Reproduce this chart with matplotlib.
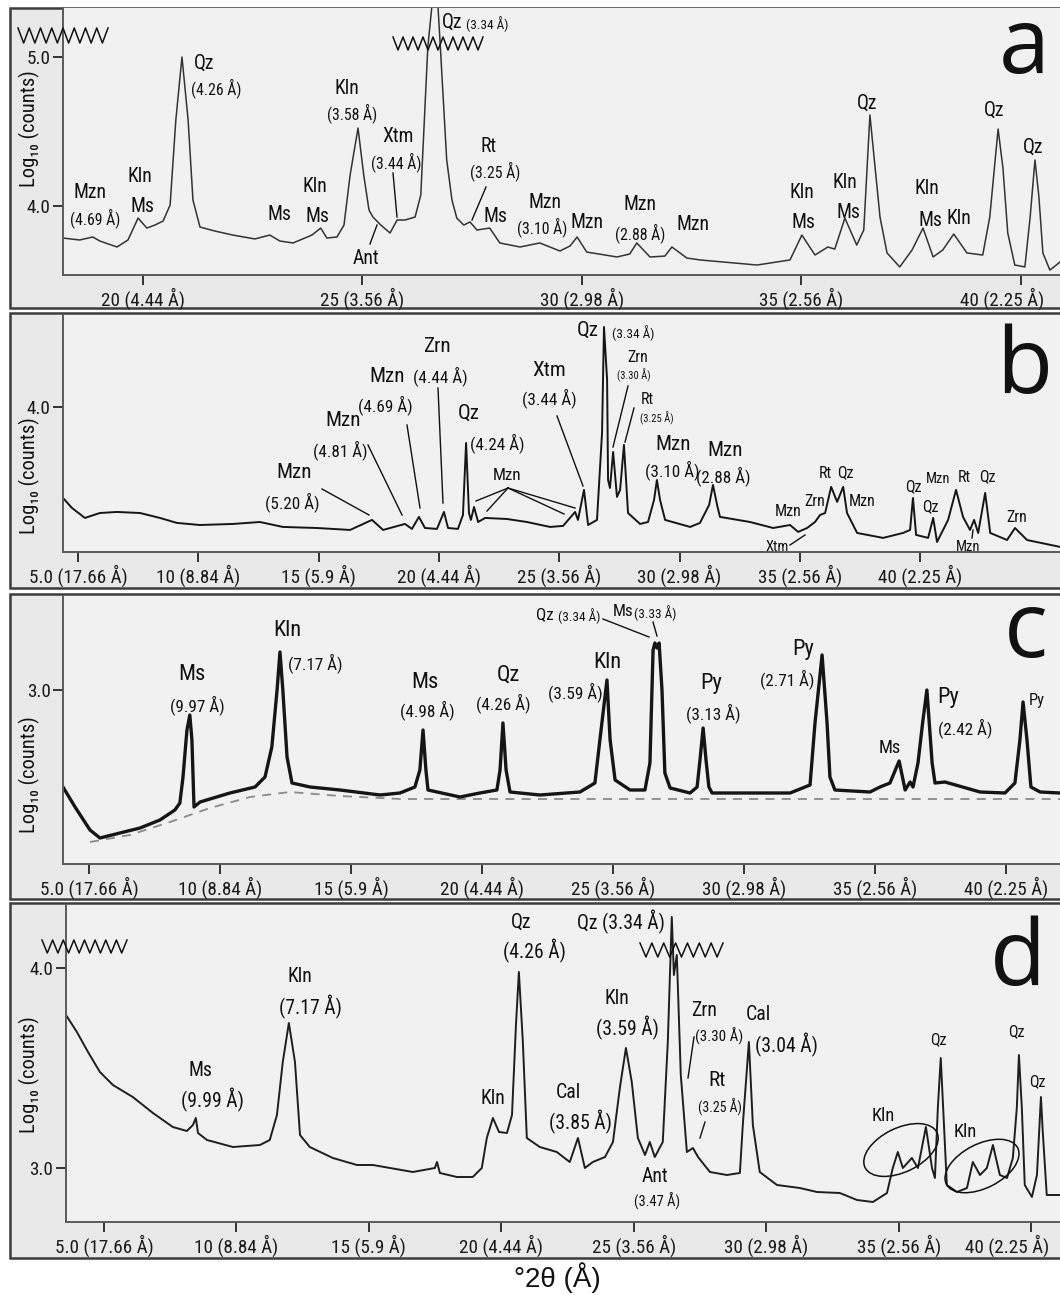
import matplotlib
matplotlib.use('Agg')
import matplotlib.pyplot as plt
from matplotlib.patches import Rectangle, Ellipse
from matplotlib.transforms import ScaledTranslation
from matplotlib import font_manager as fm

W, H, DPI = 1060, 1295, 100

# ---- pick a condensed sans font if one is installed ----
COND = None
_names = {f.name for f in fm.fontManager.ttflist}
for _fam in ['Liberation Sans Narrow', 'Roboto Condensed', 'Open Sans Condensed', 'Noto Sans Condensed',
             'Arial Narrow']:
    if _fam in _names:
        COND = (_fam, 'normal')
        break
if COND is None:
    for _f in fm.fontManager.ttflist:
        _fn = _f.fname.lower()
        if ('condensed' in _fn and all(k not in _fn for k in ['bold', 'italic', 'light', 'semi', 'extra',
                                                               'medium', 'black', 'thin'])
                and _f.name in ('Noto Sans', 'Open Sans', 'Roboto', 'Lato')):
            COND = (_f.name, _f.stretch)
            break
if COND is not None:
    FONT = [COND[0], 'DejaVu Sans']
    STRETCH = COND[1]
    S = 0.95
else:
    FONT = ['Roboto', 'DejaVu Sans']
    STRETCH = 'normal'
    S = 0.85

# ---------------- data (degrees 2-theta, log10 counts) ----------------
two_theta_a = [18.18, 18.56, 18.86, 19.02, 19.41, 19.66, 19.89, 20.09, 20.27, 20.46, 20.62, 20.75, 20.89,
               21.03, 21.14, 21.30, 21.64, 22.05, 22.55, 22.89, 23.12, 23.42, 23.85, 24.05, 24.19, 24.42,
               24.58, 24.72, 24.90, 25.03, 25.15, 25.24, 25.42, 25.63, 25.79, 25.97, 26.20, 26.33, 26.49,
               26.67, 26.77, 26.92, 27.04, 27.15, 27.31, 27.45, 27.61, 27.90, 28.13, 28.59, 29.04, 29.50,
               29.73, 29.89, 30.11, 30.80, 31.09, 31.25, 31.55, 31.89, 32.05, 32.39, 32.69, 33.99, 34.74,
               35.01, 35.31, 35.60, 35.76, 35.99, 36.26, 36.42, 36.56, 36.65, 36.79, 36.95, 37.24, 37.52,
               37.77, 38.00, 38.22, 38.47, 38.77, 39.13, 39.29, 39.48, 39.59, 39.70, 39.86, 40.09, 40.21,
               40.32, 40.41, 40.50, 40.66, 40.89]
log_counts_a = [3.785, 3.772, 3.792, 3.765, 3.725, 3.772, 3.919, 3.852, 3.872, 3.899, 4.007, 4.577, 5.000,
                4.577, 4.040, 3.859, 3.832, 3.805, 3.779, 3.805, 3.765, 3.752, 3.805, 3.852, 3.785, 3.792,
                3.872, 4.208, 4.523, 4.208, 3.973, 3.926, 3.872, 3.819, 3.906, 3.906, 3.926, 4.074, 5.067,
                5.600, 5.094, 4.309, 4.040, 3.919, 3.872, 3.893, 3.839, 3.852, 3.752, 3.725, 3.752, 3.698,
                3.732, 3.792, 3.691, 3.658, 3.678, 3.752, 3.658, 3.664, 3.725, 3.651, 3.638, 3.604, 3.638,
                3.805, 3.671, 3.725, 3.711, 3.919, 3.738, 3.839, 4.611, 4.342, 3.926, 3.685, 3.591, 3.705,
                3.852, 3.658, 3.705, 3.812, 3.685, 3.671, 3.926, 4.517, 4.255, 3.819, 3.604, 3.591, 3.926,
                4.309, 4.060, 3.685, 3.570, 3.624]

two_theta_b = [4.38, 4.75, 5.29, 5.91, 6.62, 7.58, 8.41, 9.11, 10.07, 11.44, 12.56, 13.52, 14.93, 16.31,
               17.22, 17.68, 18.59, 18.88, 19.17, 19.42, 19.92, 20.21, 20.38, 20.79, 21.00, 21.13, 21.25,
               21.33, 21.46, 21.63, 21.92, 22.83, 23.66, 24.62, 25.16, 25.66, 25.78, 26.03, 26.20, 26.57,
               26.78, 26.86, 26.99, 27.03, 27.11, 27.24, 27.40, 27.53, 27.69, 27.86, 28.36, 28.69, 28.94,
               29.06, 29.19, 29.40, 30.44, 30.85, 31.23, 31.39, 31.56, 31.68, 32.93, 33.89, 34.59, 34.93,
               35.30, 35.63, 35.84, 36.05, 36.30, 36.55, 36.80, 36.96, 37.38, 38.46, 39.29, 39.58, 39.70,
               39.83, 40.33, 40.54, 40.70, 41.16, 41.49, 41.78, 42.07, 42.24, 42.41, 42.70, 42.91, 43.61,
               43.94, 44.44, 45.81]
log_counts_b = [3.393, 3.327, 3.260, 3.293, 3.300, 3.293, 3.260, 3.227, 3.213, 3.220, 3.233, 3.200, 3.193,
                3.180, 3.247, 3.180, 3.220, 3.187, 3.267, 3.193, 3.187, 3.300, 3.193, 3.187, 3.280, 3.760,
                3.293, 3.247, 3.333, 3.233, 3.260, 3.253, 3.233, 3.200, 3.207, 3.300, 3.247, 3.447, 3.213,
                3.247, 3.827, 4.533, 4.180, 3.513, 3.460, 3.700, 3.400, 3.447, 3.747, 3.293, 3.220, 3.233,
                3.380, 3.513, 3.380, 3.247, 3.200, 3.227, 3.347, 3.480, 3.347, 3.267, 3.233, 3.193, 3.213,
                3.167, 3.193, 3.233, 3.280, 3.293, 3.467, 3.367, 3.467, 3.293, 3.160, 3.127, 3.160, 3.180,
                3.393, 3.147, 3.127, 3.260, 3.100, 3.247, 3.447, 3.267, 3.180, 3.247, 3.160, 3.427, 3.160,
                3.113, 3.193, 3.113, 3.067]

two_theta_c = [4.01, 4.47, 5.04, 5.42, 6.18, 6.95, 7.71, 8.28, 8.47, 8.59, 8.74, 8.85, 8.93, 9.01, 9.24,
               10.38, 11.34, 11.72, 11.98, 12.18, 12.29, 12.40, 12.56, 12.75, 13.44, 14.58, 16.11, 16.87,
               17.44, 17.63, 17.75, 17.86, 17.94, 19.16, 19.92, 20.57, 20.69, 20.80, 20.92, 21.07, 22.21,
               23.74, 24.31, 24.50, 24.77, 24.89, 25.08, 25.65, 26.22, 26.41, 26.53, 26.60, 26.68, 26.76,
               26.87, 26.98, 27.18, 27.94, 28.21, 28.32, 28.44, 28.55, 28.66, 28.78, 30.23, 31.76, 32.52,
               32.71, 32.98, 33.17, 33.28, 33.47, 34.81, 35.19, 35.57, 35.92, 36.15, 36.34, 36.45, 36.64,
               36.83, 36.98, 37.18, 37.29, 37.67, 39.01, 39.96, 40.34, 40.53, 40.65, 40.80, 40.95, 41.30,
               42.06]
log_counts_c = [2.515, 2.415, 2.300, 2.260, 2.285, 2.310, 2.350, 2.400, 2.435, 2.565, 2.800, 2.875, 2.750,
                2.415, 2.440, 2.485, 2.515, 2.565, 2.715, 3.000, 3.190, 3.000, 2.665, 2.535, 2.515, 2.500,
                2.475, 2.485, 2.515, 2.600, 2.800, 2.600, 2.500, 2.465, 2.485, 2.500, 2.600, 2.835, 2.600,
                2.490, 2.475, 2.490, 2.535, 2.750, 3.050, 2.750, 2.550, 2.500, 2.500, 2.635, 3.200, 3.235,
                3.210, 3.235, 3.000, 2.585, 2.510, 2.485, 2.515, 2.650, 2.810, 2.650, 2.515, 2.485, 2.485,
                2.485, 2.525, 2.835, 3.175, 2.835, 2.565, 2.500, 2.490, 2.515, 2.535, 2.645, 2.500, 2.540,
                2.515, 2.635, 2.850, 3.000, 2.635, 2.535, 2.540, 2.490, 2.485, 2.535, 2.750, 2.940, 2.750,
                2.515, 2.490, 2.485]
baseline_theta_c = [5.04, 6.56, 8.09, 9.62, 11.15, 12.67, 14.58, 16.87, 42.06]
baseline_log_c = [2.240, 2.275, 2.340, 2.410, 2.465, 2.490, 2.470, 2.455, 2.455]

two_theta_d = [3.57, 3.98, 4.40, 4.85, 5.34, 6.09, 6.85, 7.60, 8.13, 8.36, 8.47, 8.55, 8.89, 9.87, 10.89,
               11.26, 11.53, 11.75, 11.98, 12.21, 12.40, 12.77, 13.64, 14.55, 15.15, 16.66, 17.49, 17.57,
               17.68, 18.32, 18.92, 19.26, 19.45, 19.68, 19.91, 20.21, 20.40, 20.55, 20.66, 20.81, 20.96,
               21.45, 22.09, 22.58, 22.89, 23.15, 23.45, 23.91, 24.21, 24.47, 24.70, 24.92, 25.15, 25.42,
               25.60, 25.79, 26.09, 26.28, 26.43, 26.51, 26.62, 26.77, 27.00, 27.23, 27.42, 27.87, 28.51,
               29.00, 29.11, 29.34, 29.49, 29.75, 30.40, 31.26, 31.91, 32.77, 33.42, 34.02, 34.55, 34.77,
               34.96, 35.15, 35.49, 35.72, 36.02, 36.25, 36.36, 36.47, 36.58, 36.66, 36.81, 37.19, 37.57,
               37.79, 38.06, 38.32, 38.55, 38.81, 39.08, 39.30, 39.45, 39.53, 39.64, 39.75, 40.02, 40.21,
               40.36, 40.43, 40.58, 41.08]
log_counts_d = [3.765, 3.680, 3.580, 3.480, 3.415, 3.355, 3.275, 3.205, 3.185, 3.215, 3.250, 3.175, 3.140,
                3.105, 3.115, 3.140, 3.265, 3.530, 3.725, 3.530, 3.165, 3.105, 3.050, 3.015, 3.015, 2.980,
                3.000, 3.030, 2.975, 2.955, 2.955, 3.000, 3.150, 3.250, 3.180, 3.175, 3.265, 3.715, 3.980,
                3.630, 3.150, 3.105, 3.080, 3.030, 3.150, 3.000, 3.030, 3.055, 3.130, 3.400, 3.600, 3.430,
                3.150, 3.065, 3.130, 3.055, 3.130, 3.630, 4.255, 3.965, 4.065, 3.465, 3.080, 3.100, 3.055,
                2.980, 2.965, 2.975, 3.215, 3.630, 3.215, 2.980, 2.915, 2.900, 2.880, 2.875, 2.840, 2.830,
                2.875, 3.000, 3.080, 3.000, 3.050, 3.000, 3.205, 3.000, 2.950, 3.300, 3.550, 3.330, 2.915,
                2.880, 2.900, 3.030, 2.965, 3.000, 3.115, 2.965, 2.950, 3.050, 3.300, 3.565, 3.300, 2.915,
                2.855, 2.965, 3.355, 3.180, 2.865, 2.865]

xticks_a = [20, 25, 30, 35, 40]
xticklabels_a = ['20 (4.44 Å)', '25 (3.56 Å)', '30 (2.98 Å)', '35 (2.56 Å)', '40 (2.25 Å)']
xticks_bcd = [5, 10, 15, 20, 25, 30, 35, 40]
xticklabels_bcd = ['5.0 (17.66 Å)', '10 (8.84 Å)', '15 (5.9 Å)', '20 (4.44 Å)', '25 (3.56 Å)',
                   '30 (2.98 Å)', '35 (2.56 Å)', '40 (2.25 Å)']
yticks_a = [4.0, 5.0]
yticks_b = [4.0]
yticks_c = [3.0]
yticks_d = [3.0, 4.0]

# ---------------- figure ----------------
fig = plt.figure(figsize=(W / DPI, H / DPI), dpi=DPI)
fig.patch.set_facecolor('white')

bg = fig.add_axes([0, 0, 1, 1], zorder=0)
bg.set_xlim(0, W); bg.set_ylim(H, 0); bg.axis('off')
for y0, y1 in [(8, 308), (313, 588), (594, 899), (903, 1258)]:
    bg.add_patch(Rectangle((10, y0), 1070, y1 - y0, facecolor='#e9e9e9', edgecolor='#3c3c3c', lw=1.8))

ov = fig.add_axes([0, 0, 1, 1], zorder=10)
ov.set_xlim(0, W); ov.set_ylim(H, 0); ov.axis('off')
ov.patch.set_alpha(0)

TICK_FS = 14.5 * S


def make_axes(left, right, top, bottom, xlim, ylim, xt, xtl, yt, last_shift=0):
    ax = fig.add_axes([left / W, 1 - bottom / H, (right - left) / W, (bottom - top) / H], zorder=2)
    ax.set_facecolor('#f1f1f1')
    ax.set_xlim(*xlim); ax.set_ylim(*ylim)
    for s in ['top', 'right']:
        ax.spines[s].set_visible(False)
    for s in ['left', 'bottom']:
        ax.spines[s].set_color('#5a5a5a'); ax.spines[s].set_linewidth(1.4)
    ax.set_xticks(xt)
    ax.set_xticklabels(xtl, fontfamily=FONT, fontstretch=STRETCH, fontsize=TICK_FS, color='#1a1a1a')
    ax.set_yticks(yt)
    ax.set_yticklabels(['%.1f' % v for v in yt], fontfamily=FONT, fontstretch=STRETCH, fontsize=TICK_FS,
                       color='#1a1a1a')
    ax.tick_params(direction='out', length=7, width=1.4, color='#333333', pad=2)
    if last_shift:
        lab = ax.get_xticklabels()[-1]
        lab.set_transform(lab.get_transform() + ScaledTranslation(last_shift / DPI, 0, fig.dpi_scale_trans))
    return ax


ax_a = make_axes(63, 1060, 8, 275, (18.18, 40.89), (3.537, 5.329), xticks_a, xticklabels_a, yticks_a, -19)
ax_b = make_axes(63, 1060, 315, 552, (4.38, 45.81), (3.033, 4.613), xticks_bcd, xticklabels_bcd, yticks_b)
ax_c = make_axes(63, 1060, 596, 864, (4.01, 42.06), (2.13, 3.47), xticks_bcd, xticklabels_bcd, yticks_c)
ax_d = make_axes(66, 1060, 905, 1222, (3.57, 41.08), (2.73, 4.315), xticks_bcd, xticklabels_bcd, yticks_d, -24)

ax_a.plot(two_theta_a, log_counts_a, color='#333333', lw=1.1)
ax_b.plot(two_theta_b, log_counts_b, color='#151515', lw=1.4)
ax_c.plot(baseline_theta_c, baseline_log_c, color='#8a8a8a', lw=1.3, ls=(0, (5, 4)))
ax_c.plot(two_theta_c, log_counts_c, color='#151515', lw=2.4)
ax_d.plot(two_theta_d, log_counts_d, color='#1e1e1e', lw=1.4)


def T(x, y, s, fs, **kw):
    ov.text(x, y, s, fontsize=fs * S, fontfamily=FONT, fontstretch=STRETCH, ha=kw.pop('ha', 'center'),
            va=kw.pop('va', 'center'), color='#111111', **kw)


def L(p0, p1):
    ov.plot([p0[0], p1[0]], [p0[1], p1[1]], color='#111111', lw=1.0)


def zig(x0, x1, ytop, ybot, n):
    xs, ys = [], []
    step = (x1 - x0) / (2 * n)
    for i in range(2 * n + 1):
        xs.append(x0 + i * step)
        ys.append(ytop if i % 2 == 0 else ybot)
    ov.plot(xs, ys, color='#111111', lw=1.1)


# y labels
for yc in [129, 476, 775, 1075]:
    T(29, yc, 'Log₁₀ (counts)', 15.5, rotation=90)

# panel letters
for x, y, s in [(1050, 73, 'a'), (1052, 393, 'b'), (1048, 657, 'c'), (1046, 985, 'd')]:
    ov.text(x, y, s, fontsize=66, fontfamily=['Open Sans', 'DejaVu Sans'], ha='right', va='baseline',
            color='#111111')

# ---- panel a annotations ----
for x, y, s, fs in [(90, 192, 'Mzn', 15), (95, 218, '(4.69 Å)', 12), (140, 177, 'Kln', 15), (142, 207, 'Ms', 15),
                    (204, 63, 'Qz', 15), (216, 88, '(4.26 Å)', 12), (279, 214, 'Ms', 15), (315, 187, 'Kln', 15),
                    (317, 217, 'Ms', 15), (347, 88, 'Kln', 15), (352, 113, '(3.58 Å)', 12), (398, 136, 'Xtm', 15),
                    (396, 162, '(3.44 Å)', 12), (366, 259, 'Ant', 15), (452, 22, 'Qz', 15), (487, 24, '(3.34 Å)', 10),
                    (489, 146, 'Rt', 15), (495, 171, '(3.25 Å)', 12), (495, 217, 'Ms', 15), (545, 202, 'Mzn', 15),
                    (542, 227, '(3.10 Å)', 12), (587, 222, 'Mzn', 15), (640, 205, 'Mzn', 15), (640, 233, '(2.88 Å)', 12),
                    (693, 224, 'Mzn', 15), (802, 193, 'Kln', 15), (803, 223, 'Ms', 15), (845, 182, 'Kln', 15),
                    (848, 212, 'Ms', 15), (867, 103, 'Qz', 15), (927, 188, 'Kln', 15), (930, 220, 'Ms', 15),
                    (959, 218, 'Kln', 15), (994, 110, 'Qz', 15), (1033, 147, 'Qz', 15)]:
    T(x, y, s, fs)
for p0, p1 in [((393, 173), (397, 217)), ((370, 244), (377, 225)), ((486, 187), (472, 220))]:
    L(p0, p1)
zig(18, 108, 28, 43, 8)
zig(393, 483, 37, 50, 9)

# ---- panel b annotations ----
for x, y, s, fs in [(294, 473, 'Mzn', 16), (292, 502, '(5.20 Å)', 13), (343, 420, 'Mzn', 16), (340, 450, '(4.81 Å)', 13),
                    (387, 377, 'Mzn', 16), (385, 405, '(4.69 Å)', 13), (437, 347, 'Zrn', 16), (440, 376, '(4.44 Å)', 13),
                    (469, 413, 'Qz', 16), (497, 443, '(4.24 Å)', 13), (507, 476, 'Mzn', 13), (549, 370, 'Xtm', 16),
                    (549, 398, '(3.44 Å)', 13), (588, 330, 'Qz', 16), (633, 333, '(3.34 Å)', 10), (638, 357, 'Zrn', 12),
                    (634, 375, '(3.30 Å)', 8), (647, 400, 'Rt', 12), (657, 418, '(3.25 Å)', 8), (673, 445, 'Mzn', 16),
                    (672, 470, '(3.10 Å)', 13), (725, 450, 'Mzn', 16), (723, 476, '(2.88 Å)', 13), (788, 511, 'Mzn', 12),
                    (815, 502, 'Zrn', 12), (825, 473, 'Rt', 12), (845, 473, 'Qz', 12), (862, 501, 'Mzn', 12),
                    (777, 547, 'Xtm', 11), (913, 487, 'Qz', 12), (938, 479, 'Mzn', 11), (930, 507, 'Qz', 12),
                    (964, 478, 'Rt', 12), (987, 477, 'Qz', 12), (968, 547, 'Mzn', 11), (1017, 517, 'Zrn', 12)]:
    T(x, y, s, fs)
for p0, p1 in [((322, 489), (369, 515)), ((368, 445), (402, 515)), ((407, 425), (420, 508)), ((438, 388), (443, 503)),
               ((508, 488), (476, 501)), ((508, 488), (487, 511)), ((508, 488), (564, 514)), ((508, 488), (575, 508)),
               ((557, 416), (583, 486)), ((628, 386), (613, 447)), ((634, 408), (625, 442)), ((790, 545), (805, 535)),
               ((973, 530), (972, 538))]:
    L(p0, p1)

# ---- panel c annotations ----
for x, y, s, fs in [(192, 675, 'Ms', 17), (197, 705, '(9.97 Å)', 13), (287, 630, 'Kln', 17), (315, 663, '(7.17 Å)', 13),
                    (425, 683, 'Ms', 17), (427, 710, '(4.98 Å)', 13), (508, 675, 'Qz', 17), (503, 703, '(4.26 Å)', 13),
                    (607, 663, 'Kln', 17), (575, 692, '(3.59 Å)', 13), (545, 615, 'Qz', 13), (579, 616, '(3.34 Å)', 10),
                    (623, 612, 'Ms', 13), (655, 613, '(3.33 Å)', 10), (711, 683, 'Py', 17), (713, 713, '(3.13 Å)', 13),
                    (803, 650, 'Py', 17), (787, 679, '(2.71 Å)', 13), (890, 748, 'Ms', 14), (948, 697, 'Py', 17),
                    (965, 728, '(2.42 Å)', 13), (1037, 700, 'Py', 12.5)]:
    T(x, y, s, fs)
for p0, p1 in [((603, 619), (649, 637)), ((653, 622), (657, 636))]:
    L(p0, p1)

# ---- panel d annotations ----
for x, y, s, fs in [(200, 1070, 'Ms', 15), (212, 1100, '(9.99 Å)', 15), (300, 977, 'Kln', 15), (310, 1007, '(7.17 Å)', 15),
                    (493, 1098, 'Kln', 15), (521, 922, 'Qz', 15), (534, 951, '(4.26 Å)', 15), (568, 1092, 'Cal', 15),
                    (580, 1122, '(3.85 Å)', 15), (617, 998, 'Kln', 15), (627, 1028, '(3.59 Å)', 15), (655, 1177, 'Ant', 15),
                    (657, 1201, '(3.47 Å)', 11), (621, 922, 'Qz (3.34 Å)', 15), (704, 1010, 'Zrn', 15),
                    (719, 1036, '(3.30 Å)', 11.5), (717, 1081, 'Rt', 16), (720, 1107, '(3.25 Å)', 10.5),
                    (758, 1015, 'Cal', 15), (786, 1045, '(3.04 Å)', 15), (883, 1116, 'Kln', 14), (965, 1132, 'Kln', 14),
                    (938, 1040, 'Qz', 12), (1016, 1032, 'Qz', 12), (1037, 1082, 'Qz', 12)]:
    T(x, y, s, fs)
for p0, p1 in [((694, 1037), (688, 1078)), ((705, 1122), (700, 1138))]:
    L(p0, p1)
zig(42, 127, 940, 953, 8)
zig(640, 723, 943, 957, 7)
for cx, cy, ang in [(901, 1150, -26), (982, 1166, -27)]:
    ov.add_patch(Ellipse((cx, cy), 80, 44, angle=ang, fill=False, edgecolor='#111111', lw=1.1))

# x label
ov.text(557, 1278, '°2θ (Å)', fontsize=20, fontfamily=['Liberation Sans', 'DejaVu Sans'], ha='center', va='center',
        color='#111111')

fig.savefig('out.png', dpi=DPI, facecolor='white')
